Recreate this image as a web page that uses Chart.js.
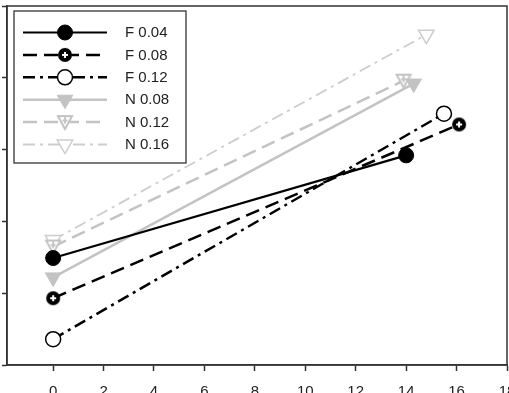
<!DOCTYPE html>
<html>
<head>
<meta charset="utf-8">
<script src="https://cdn.jsdelivr.net/npm/chart.js@4/dist/chart.umd.min.js"></script>
<style>
  html, body { margin: 0; padding: 0; background: #fff; overflow: hidden; }
  #wrap { position: relative; width: 509px; height: 393px; }
</style>
</head>
<body>
<div id="wrap"><canvas id="plot"></canvas></div>
<script>
// values
const xTicks = [0, 2, 4, 6, 8, 10, 12, 14, 16, 18];
const yTicks = [0, 1, 2, 3, 4, 5];
const seriesNames = ["F 0.04", "F 0.08", "F 0.12", "N 0.08", "N 0.12", "N 0.16"];

const f004X = [0, 14.0],  f004Y = [1.49, 2.92];
const f008X = [0, 16.1],  f008Y = [0.93, 3.35];
const f012X = [0, 15.5],  f012Y = [0.36, 3.50];
const n008X = [0, 14.3],  n008Y = [1.22, 3.92];
const n012X = [0, 13.9],  n012Y = [1.65, 3.96];
const n016X = [0, 14.8],  n016Y = [1.74, 4.60];

const BLACK = "#000000";
const GRAY = "#c3c3c3";
const LIGHT = "#cdcdcd";

const toPoints = (xs, ys) => xs.map((x, i) => ({ x, y: ys[i] }));

// circle with a white plus in it
function circlePlus() {
  const c = document.createElement("canvas");
  c.width = 16; c.height = 16;
  const g = c.getContext("2d");
  g.fillStyle = BLACK;
  g.beginPath(); g.arc(8, 8, 7, 0, Math.PI * 2); g.fill();
  g.strokeStyle = "#fff"; g.lineWidth = 2;
  g.beginPath(); g.moveTo(5, 8); g.lineTo(11, 8); g.moveTo(8, 5); g.lineTo(8, 11); g.stroke();
  return c;
}

// down triangle outline with a plus in it
function triPlus() {
  const c = document.createElement("canvas");
  c.width = 18; c.height = 18;
  const g = c.getContext("2d");
  g.fillStyle = "#fff";
  g.strokeStyle = GRAY; g.lineWidth = 2;
  g.beginPath(); g.moveTo(2, 3); g.lineTo(16, 3); g.lineTo(9, 16); g.closePath(); g.fill(); g.stroke();
  g.lineWidth = 1.8;
  g.beginPath(); g.moveTo(6.5, 7.5); g.lineTo(11.5, 7.5); g.moveTo(9, 4); g.lineTo(9, 10.5); g.stroke();
  return c;
}

const datasets = [
  { label: seriesNames[0], data: toPoints(f004X, f004Y), borderColor: BLACK, borderWidth: 2.2,
    pointStyle: "circle", pointRadius: 7.5, pointBackgroundColor: BLACK, pointBorderColor: BLACK, pointBorderWidth: 1 },
  { label: seriesNames[1], data: toPoints(f008X, f008Y), borderColor: BLACK, borderWidth: 2.5, borderDash: [14, 7],
    pointStyle: circlePlus(), pointRadius: 7, pointBackgroundColor: BLACK, pointBorderColor: BLACK },
  { label: seriesNames[2], data: toPoints(f012X, f012Y), borderColor: BLACK, borderWidth: 2.5, borderDash: [12, 5, 3, 5],
    pointStyle: "circle", pointRadius: 7.5, pointBackgroundColor: "#fff", pointBorderColor: BLACK, pointBorderWidth: 1.5 },
  { label: seriesNames[3], data: toPoints(n008X, n008Y), borderColor: GRAY, borderWidth: 2.5,
    pointStyle: "triangle", pointRotation: 180, pointRadius: 9, pointBackgroundColor: GRAY, pointBorderColor: GRAY, pointBorderWidth: 1 },
  { label: seriesNames[4], data: toPoints(n012X, n012Y), borderColor: GRAY, borderWidth: 2.5, borderDash: [14, 7],
    pointStyle: triPlus(), pointRadius: 9, pointBackgroundColor: GRAY, pointBorderColor: GRAY },
  { label: seriesNames[5], data: toPoints(n016X, n016Y), borderColor: LIGHT, borderWidth: 1.8, borderDash: [12, 5, 3, 5],
    pointStyle: "triangle", pointRotation: 180, pointRadius: 9, pointBackgroundColor: "#fff", pointBorderColor: LIGHT, pointBorderWidth: 1.5 }
];
datasets.forEach(d => { d.showLine = true; d.fill = false; d.tension = 0; });

// frame around plot area
const frame = {
  id: "frame",
  afterDatasetsDraw(chart) {
    const { ctx, chartArea: a } = chart;
    ctx.save();
    ctx.strokeStyle = "#333";
    ctx.lineWidth = 1.5;
    ctx.strokeRect(a.left, a.top, a.right - a.left, a.bottom - a.top);
    ctx.restore();
  }
};

// legend box with line + marker samples
const boxLegend = {
  id: "boxLegend",
  afterDraw(chart) {
    const { ctx } = chart;
    const bx = 14, by = 11, bw = 172, bh = 152;
    ctx.save();
    ctx.fillStyle = "#fff";
    ctx.fillRect(bx, by, bw, bh);
    ctx.strokeStyle = "#333";
    ctx.lineWidth = 1.3;
    ctx.strokeRect(bx, by, bw, bh);
    chart.data.datasets.forEach((d, i) => {
      const y = 32.5 + i * 22.4;
      ctx.save();
      ctx.strokeStyle = d.borderColor;
      ctx.lineWidth = d.borderWidth;
      ctx.setLineDash(d.borderDash || []);
      ctx.beginPath(); ctx.moveTo(23, y); ctx.lineTo(107, y); ctx.stroke();
      ctx.setLineDash([]);
      ctx.fillStyle = d.pointBackgroundColor;
      ctx.strokeStyle = d.pointBorderColor;
      ctx.lineWidth = d.pointBorderWidth || 0;
      Chart.helpers.drawPoint(ctx, {
        pointStyle: d.pointStyle, rotation: d.pointRotation || 0,
        radius: d.pointRadius, borderWidth: d.pointBorderWidth || 0
      }, 65, y);
      ctx.restore();
      ctx.fillStyle = "#222";
      ctx.font = "15px 'Liberation Sans', Arial, sans-serif";
      ctx.textBaseline = "middle";
      ctx.fillText(d.label, 125, y + 0.5);
    });
    ctx.restore();
  }
};

new Chart(document.getElementById("plot"), {
  type: "scatter",
  data: { datasets },
  options: {
    responsive: true,
    maintainAspectRatio: false,
    animation: false,
    layout: { autoPadding: false, padding: { left: 2, top: 6, right: 2, bottom: 0 } },
    plugins: { legend: { display: false }, tooltip: { enabled: false } },
    scales: {
      x: {
        type: "linear", min: -1.83, max: 18,
        afterBuildTicks: s => { s.ticks = xTicks.map(v => ({ value: v })); },
        afterFit: s => { s.height = 28; s.paddingLeft = 0; s.paddingRight = 0; },
        grid: { drawOnChartArea: false, drawTicks: true, tickLength: 6, tickColor: "#333", tickWidth: 1.5 },
        border: { color: "#333", width: 1.5 },
        ticks: { color: "#222", padding: 12, maxRotation: 0, autoSkip: false,
          font: { family: "'Liberation Sans', Arial, sans-serif", size: 15 } }
      },
      y: {
        type: "linear", min: 0, max: 5,
        afterBuildTicks: s => { s.ticks = yTicks.map(v => ({ value: v })); },
        afterFit: s => { s.paddingTop = 0; s.paddingBottom = 0; },
        grid: { drawOnChartArea: false, drawTicks: true, tickLength: 5, tickColor: "#333", tickWidth: 1.5 },
        border: { color: "#333", width: 1.5 },
        ticks: { display: false }
      }
    }
  },
  plugins: [frame, boxLegend]
});
</script>
</body>
</html>
